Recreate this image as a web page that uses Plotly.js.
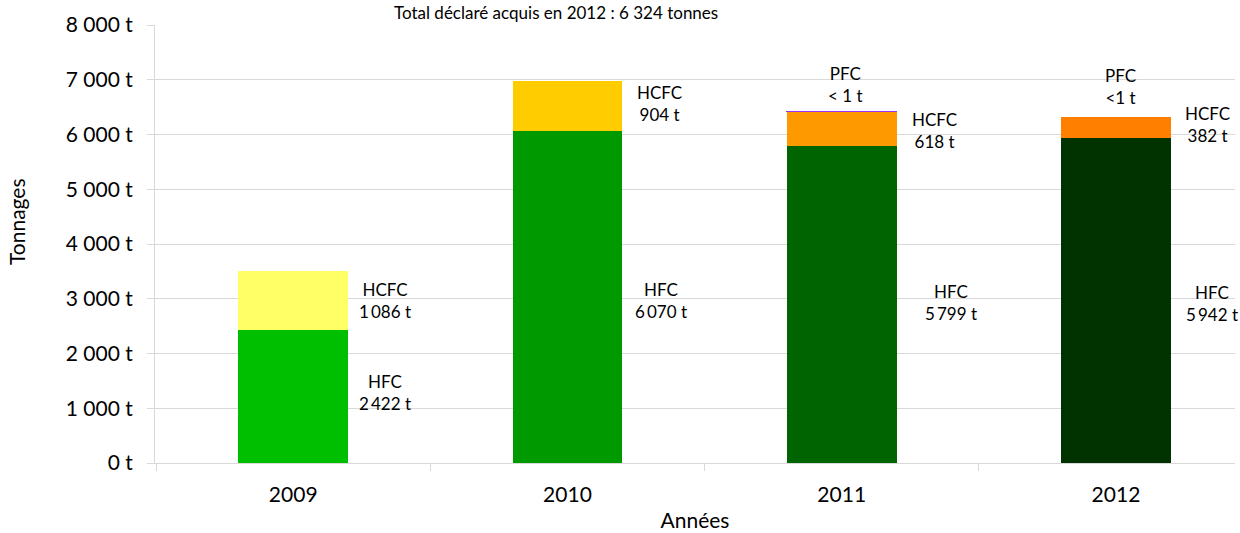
<!DOCTYPE html>
<html>
<head>
<meta charset="utf-8">
<script src="https://cdn.plot.ly/plotly-3.0.1.min.js"></script>
<style>
  body { margin: 0; background: #fff; }
  #chart { width: 1240px; height: 533px; }
</style>
</head>
<body>
<div id="chart"></div>
<script>
// Fluorinated gases declared as acquired, by year
const years = ['2009', '2010', '2011', '2012'];
const hfc = [2422, 6070, 5799, 5942];
const hcfc = [1086, 904, 618, 382];
const pfc = [0, 0, 0.5, 0.5];
const pfcLabels = ['', '', '< 1 t', '<1 t'];

const hfcColors = ['#00bf00', '#009900', '#006400', '#003300'];
const hcfcColors = ['#ffff66', '#ffcc00', '#ff9900', '#ff8000'];
const pfcLine = ['rgba(0,0,0,0)', 'rgba(0,0,0,0)', '#9933ff', 'rgba(0,0,0,0)'];

const font = 'Lato, "Open Sans", sans-serif';

function fmt(v) {
    return String(v).replace(/\B(?=(\d{3})+(?!\d))/g, '\u2009') + ' t';
}

const traces = [
    {
        type: 'bar', name: 'HFC', x: years, y: hfc,
        marker: { color: hfcColors },
        width: 0.4, hoverinfo: 'x+y'
    },
    {
        type: 'bar', name: 'HCFC', x: years, y: hcfc,
        marker: { color: hcfcColors },
        width: 0.4, hoverinfo: 'x+y'
    },
    {
        type: 'bar', name: 'PFC', x: years, y: pfc,
        marker: { color: '#9933ff', line: { color: pfcLine, width: 1.5 } },
        width: 0.4, hoverinfo: 'x+y'
    }
];

// where the labels sit (x offset from bar centre, y in tonnes)
const hfcPos = [[0.336, 1280], [0.34, 2975], [0.398, 2940], [0.35, 2905]];
const hcfcPos = [[0.336, 2960], [0.336, 6575], [0.34, 6080], [0.332, 6190]];
const pfcPos = [null, null, [0.015, 6905], [0.015, 6870]];

const labelFont = { family: font, size: 17, color: '#000' };
const annotations = [];
for (let i = 0; i < years.length; i++) {
    annotations.push({
        x: i + hfcPos[i][0], y: hfcPos[i][1], xref: 'x', yref: 'y',
        text: 'HFC<br>' + fmt(hfc[i]), showarrow: false,
        font: labelFont, align: 'center', yanchor: 'middle'
    });
    annotations.push({
        x: i + hcfcPos[i][0], y: hcfcPos[i][1], xref: 'x', yref: 'y',
        text: 'HCFC<br>' + fmt(hcfc[i]), showarrow: false,
        font: labelFont, align: 'center', yanchor: 'middle'
    });
    if (pfcPos[i]) {
        annotations.push({
            x: i + pfcPos[i][0], y: pfcPos[i][1], xref: 'x', yref: 'y',
            text: 'PFC<br>' + pfcLabels[i], showarrow: false,
            font: labelFont, align: 'center', yanchor: 'middle'
        });
    }
}
// chart title
annotations.push({
    x: (556 - 155) / 1080, xref: 'paper', y: 1, yref: 'paper', yshift: 13,
    xanchor: 'center', yanchor: 'middle', showarrow: false,
    text: 'Total déclaré acquis en 2012 : 6 324 tonnes',
    font: { family: font, size: 17, color: '#000' }
});
// y axis title
annotations.push({
    x: (17 - 155) / 1080, xref: 'paper', y: (463 - 222) / 438, yref: 'paper',
    xanchor: 'center', yanchor: 'middle', showarrow: false, textangle: -90,
    text: 'Tonnages',
    font: { family: font, size: 21, color: '#000' }
});

const layout = {
    width: 1240, height: 533,
    margin: { l: 155, r: 5, t: 25, b: 70 },
    paper_bgcolor: '#fff', plot_bgcolor: '#fff',
    barmode: 'stack', showlegend: false,
    separators: ', ',
    font: { family: font, size: 21, color: '#000' },
    xaxis: {
        type: 'category', range: [-0.504, 3.434],
        showline: true, linecolor: '#d9d9d9', linewidth: 1,
        ticks: 'outside', tickson: 'boundaries', ticklen: 7, tickcolor: '#d9d9d9',
        showgrid: false, tickfont: { family: font, size: 21 },
        ticklabelstandoff: 13,
        title: { text: 'Années', font: { family: font, size: 21 }, standoff: 8 }
    },
    yaxis: {
        range: [0, 8000], dtick: 1000, tickformat: ',d', ticksuffix: ' t',
        showline: true, linecolor: '#d9d9d9', linewidth: 1,
        ticks: 'outside', ticklen: 7, tickcolor: '#d9d9d9',
        gridcolor: '#d9d9d9', zeroline: false,
        tickfont: { family: font, size: 21 },
        ticklabelstandoff: 10
    },
    annotations: annotations
};

Plotly.newPlot('chart', traces, layout, { displayModeBar: false });
</script>
</body>
</html>
